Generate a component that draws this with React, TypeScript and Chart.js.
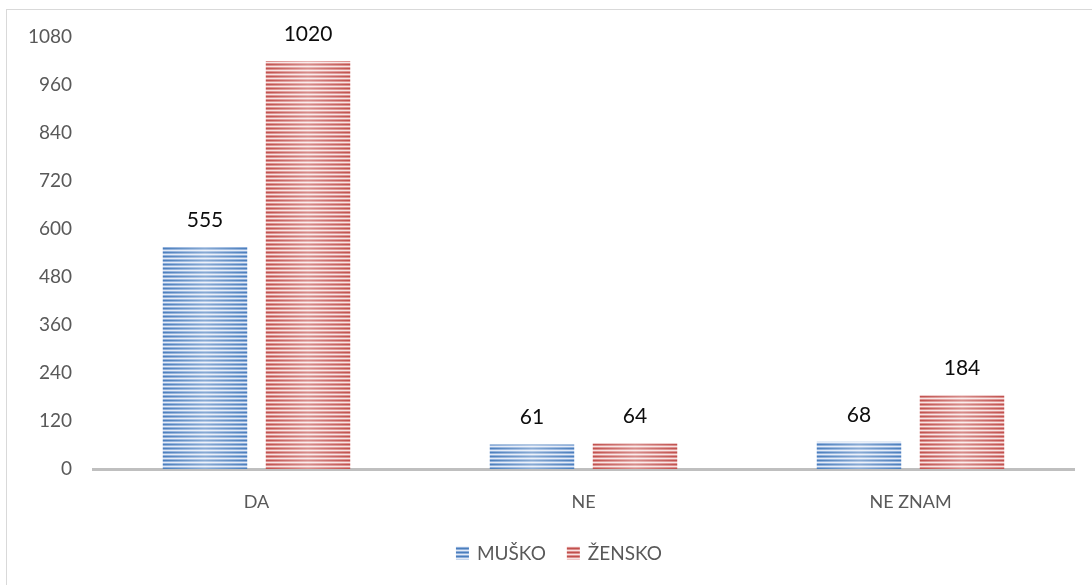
import React, { useEffect, useRef } from "react";
import { Chart, registerables } from "chart.js";

Chart.register(...registerables);

const categories = ["DA", "NE", "NE ZNAM"];
const seriesNames = ["MUŠKO", "ŽENSKO"];
const muskoValues = [555, 61, 68];
const zenskoValues = [1020, 64, 184];
const yTicks = [0, 120, 240, 360, 480, 600, 720, 840, 960, 1080];

const FONT = "Lato, 'Open Sans', sans-serif";

function makePattern(dark: string, mid: string, light: string): CanvasPattern | string {
  const c = document.createElement("canvas");
  c.width = 8;
  c.height = 4;
  const g = c.getContext("2d");
  if (!g) return dark;
  g.fillStyle = dark;
  g.fillRect(0, 0, 8, 1);
  g.fillStyle = mid;
  g.fillRect(0, 1, 8, 1);
  g.fillStyle = light;
  g.fillRect(0, 2, 8, 1);
  g.fillStyle = mid;
  g.fillRect(0, 3, 8, 1);
  const p = g.createPattern(c, "repeat");
  return p || dark;
}

export default function App() {
  const ref = useRef<HTMLCanvasElement>(null);
  useEffect(() => {
    if (!ref.current) return;
    const bluePat = makePattern("#4a7ebb", "#8eaedb", "#e3ebf6");
    const redPat = makePattern("#c0504d", "#dc8f8d", "#f7e3e3");
    const fills = [bluePat, redPat];

    const overlayPlugin = {
      id: "overlay",
      afterDatasetsDraw(chart: any) {
        const ctx = chart.ctx;
        chart.data.datasets.forEach((ds: any, di: number) => {
          const meta = chart.getDatasetMeta(di);
          meta.data.forEach((bar: any, i: number) => {
            const { x, y, base, width } = bar.getProps(["x", "y", "base", "width"], true);
            const l = x - width / 2;
            const r = x + width / 2;
            const grad = ctx.createLinearGradient(l, 0, r, 0);
            grad.addColorStop(0, "rgba(255,255,255,0)");
            grad.addColorStop(0.5, "rgba(255,255,255,0.35)");
            grad.addColorStop(1, "rgba(255,255,255,0)");
            ctx.save();
            ctx.fillStyle = grad;
            ctx.fillRect(l, y, width, base - y);
            ctx.restore();
            ctx.save();
            ctx.font = "21px " + FONT;
            ctx.fillStyle = "#0d0d0d";
            ctx.textAlign = "center";
            ctx.textBaseline = "middle";
            ctx.fillText(String(ds.data[i]), x, y - 27);
            ctx.restore();
          });
        });
        // legend
        ctx.save();
        ctx.font = "19px " + FONT;
        const box = 13;
        const gapBoxText = 8;
        const gapItems = 21;
        const widths = seriesNames.map((n) => ctx.measureText(n).width);
        const total = widths.reduce((a, w) => a + box + gapBoxText + w, 0) + gapItems;
        let cx = 559 - total / 2;
        const cy = 553;
        seriesNames.forEach((n, i) => {
          ctx.fillStyle = fills[i] as any;
          ctx.fillRect(cx, cy - box / 2, box, box);
          cx += box + gapBoxText;
          ctx.fillStyle = "#595959";
          ctx.textAlign = "left";
          ctx.textBaseline = "middle";
          ctx.fillText(n, cx, cy + 1);
          cx += widths[i] + gapItems;
        });
        ctx.restore();
      },
    };

    const chart = new Chart(ref.current, {
      type: "bar",
      data: {
        labels: categories,
        datasets: [
          { label: seriesNames[0], data: muskoValues, backgroundColor: bluePat as any, borderWidth: 0 },
          { label: seriesNames[1], data: zenskoValues, backgroundColor: redPat as any, borderWidth: 0 },
        ],
      },
      options: {
        animation: false,
        responsive: false,
        maintainAspectRatio: false,
        layout: { padding: { top: 37, right: 18, bottom: 0, left: 0 } },
        datasets: { bar: { categoryPercentage: 0.63, barPercentage: 0.82 } },
        plugins: { legend: { display: false }, tooltip: { enabled: false } },
        scales: {
          x: {
            grid: { display: false, drawTicks: false },
            border: { display: true, color: "#bfbfbf", width: 3 },
            ticks: { color: "#595959", font: { family: FONT, size: 18 }, padding: 22 },
            afterFit: (s: any) => {
              s.height = 116;
            },
          },
          y: {
            min: 0,
            max: 1080,
            afterBuildTicks: (s: any) => {
              s.ticks = yTicks.map((v) => ({ value: v }));
            },
            grid: { display: false, drawTicks: false },
            border: { display: false },
            ticks: {
              color: "#595959",
              font: { family: FONT, size: 19 },
              padding: 21,
              callback: (v: any) => String(v),
            },
            afterFit: (s: any) => {
              s.width = 93;
            },
          },
        },
      },
      plugins: [overlayPlugin],
    });
    return () => chart.destroy();
  }, []);

  return (
    <div style={{ position: "fixed", left: 0, top: 0, width: 1092, height: 585, background: "#fff", overflow: "hidden" }}>
      <div
        style={{
          position: "absolute",
          left: 6,
          top: 9,
          width: 1200,
          height: 700,
          borderLeft: "1px solid #d9d9d9",
          borderTop: "1px solid #d9d9d9",
        }}
      />
      <canvas ref={ref} width={1092} height={585} style={{ position: "absolute", left: 0, top: 0 }} />
    </div>
  );
}
